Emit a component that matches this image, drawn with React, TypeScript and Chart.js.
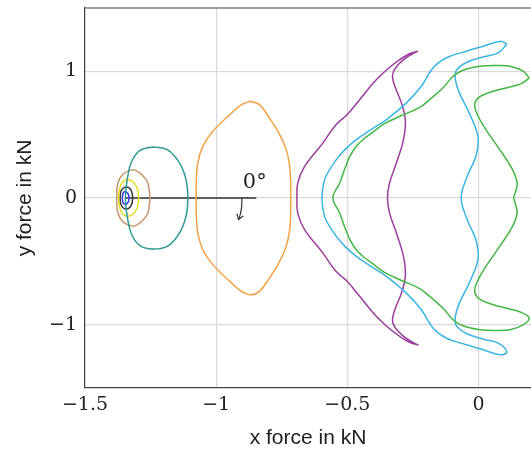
import { useEffect, useRef } from "react";
import { Chart, registerables } from "chart.js";

Chart.register(...registerables);

type P = [number, number];

// ---- data (kN) ----
const blueLoop: P[] = [
  [-1.332, 0], [-1.335, 0.03], [-1.345, 0.05], [-1.354, 0.04], [-1.358, 0],
  [-1.354, -0.04], [-1.345, -0.05], [-1.335, -0.03], [-1.332, 0],
];
const blackLoop: P[] = [
  [-1.318, 0], [-1.322, 0.05], [-1.332, 0.08], [-1.344, 0.087], [-1.356, 0.075], [-1.364, 0.045], [-1.366, 0],
  [-1.364, -0.045], [-1.356, -0.075], [-1.344, -0.087], [-1.332, -0.08], [-1.322, -0.05], [-1.318, 0],
];
const yellowLoop: P[] = [
  [-1.295, 0], [-1.300, 0.07], [-1.315, 0.125], [-1.335, 0.145], [-1.355, 0.13], [-1.367, 0.08], [-1.372, 0],
  [-1.367, -0.08], [-1.355, -0.13], [-1.335, -0.145], [-1.315, -0.125], [-1.300, -0.07], [-1.295, 0],
];
const brownLoop: P[] = [
  [-1.252, 0], [-1.258, 0.1], [-1.267, 0.145], [-1.293, 0.2], [-1.318, 0.222], [-1.357, 0.184], [-1.376, 0.105], [-1.379, 0],
  [-1.376, -0.105], [-1.357, -0.184], [-1.318, -0.222], [-1.293, -0.2], [-1.267, -0.145], [-1.258, -0.1], [-1.252, 0],
];
const tealLoop: P[] = [
  [-1.242, 0.403], [-1.185, 0.38], [-1.14, 0.277], [-1.115, 0.145], [-1.108, 0],
  [-1.115, -0.145], [-1.14, -0.277], [-1.185, -0.38], [-1.242, -0.403],
  [-1.29, -0.376], [-1.322, -0.29], [-1.337, -0.17], [-1.346, 0],
  [-1.337, 0.17], [-1.322, 0.29], [-1.29, 0.376], [-1.242, 0.403],
];
const orangeLoop: P[] = [
  [-0.869, 0.764], [-0.835, 0.737], [-0.797, 0.632], [-0.758, 0.5], [-0.733, 0.382], [-0.72, 0.25], [-0.716, 0.119], [-0.716, 0],
  [-0.716, -0.119], [-0.72, -0.25], [-0.733, -0.382], [-0.758, -0.5], [-0.797, -0.632], [-0.835, -0.737], [-0.869, -0.764],
  [-0.905, -0.735], [-0.949, -0.656], [-1.013, -0.526], [-1.051, -0.408], [-1.07, -0.277], [-1.076, -0.119], [-1.076, 0],
  [-1.076, 0.119], [-1.07, 0.277], [-1.051, 0.408], [-1.013, 0.526], [-0.949, 0.656], [-0.905, 0.735], [-0.869, 0.764],
];
const purpleLoop: P[] = [
  [-0.231, 1.159], [-0.269, 1.133], [-0.326, 1.054], [-0.389, 0.935], [-0.453, 0.776], [-0.5, 0.66], [-0.545, 0.575],
  [-0.593, 0.435], [-0.663, 0.25], [-0.689, 0.119], [-0.692, 0],
  [-0.689, -0.119], [-0.663, -0.25], [-0.593, -0.435], [-0.545, -0.575], [-0.5, -0.66], [-0.453, -0.776],
  [-0.389, -0.935], [-0.326, -1.054], [-0.269, -1.133], [-0.231, -1.159],
  [-0.249, -1.141], [-0.288, -1.088], [-0.319, -1.02], [-0.328, -0.961], [-0.319, -0.882], [-0.294, -0.751],
  [-0.279, -0.619], [-0.286, -0.461], [-0.313, -0.277], [-0.339, -0.119], [-0.347, 0],
  [-0.339, 0.119], [-0.313, 0.277], [-0.286, 0.461], [-0.279, 0.619], [-0.294, 0.751], [-0.319, 0.882],
  [-0.328, 0.961], [-0.319, 1.02], [-0.288, 1.088], [-0.249, 1.141], [-0.231, 1.159],
];
const cyanLoop: P[] = [
  [0.108, 1.215], [0.085, 1.238], [0.018, 1.198], [-0.046, 1.159], [-0.122, 1.107], [-0.173, 1.028], [-0.218, 0.882],
  [-0.275, 0.751], [-0.351, 0.619], [-0.41, 0.54], [-0.466, 0.461], [-0.51, 0.38], [-0.542, 0.303], [-0.568, 0.222],
  [-0.587, 0.145], [-0.597, 0],
  [-0.587, -0.145], [-0.568, -0.222], [-0.542, -0.303], [-0.51, -0.38], [-0.466, -0.461], [-0.41, -0.54],
  [-0.351, -0.619], [-0.275, -0.751],
  [-0.218, -0.882], [-0.173, -1.028], [-0.122, -1.107], [-0.046, -1.159], [0.018, -1.198], [0.085, -1.238], [0.108, -1.215],
  [0.075, -1.146], [0.02, -1.115], [-0.046, -1.07], [-0.084, -1.01], [-0.089, -0.945], [-0.075, -0.84],
  [-0.033, -0.66], [-0.002, -0.48], [-0.01, -0.33], [-0.043, -0.171], [-0.066, 0],
  [-0.043, 0.171], [-0.01, 0.33], [-0.002, 0.48], [-0.033, 0.66], [-0.075, 0.84], [-0.089, 0.945],
  [-0.084, 1.01], [-0.046, 1.07], [0.02, 1.115], [0.075, 1.146], [0.108, 1.215],
];
const greenLoop: P[] = [
  [0.193, 0.948], [0.17, 1.001], [0.12, 1.04], [0.069, 1.046], [0.005, 1.04], [-0.059, 1.009], [-0.097, 0.961],
  [-0.135, 0.87], [-0.186, 0.777], [-0.224, 0.715], [-0.3, 0.645], [-0.36, 0.585], [-0.402, 0.52], [-0.44, 0.462],
  [-0.466, 0.408], [-0.49, 0.33], [-0.508, 0.24], [-0.529, 0.119], [-0.555, 0],
  [-0.529, -0.119], [-0.508, -0.24], [-0.49, -0.33], [-0.466, -0.408], [-0.44, -0.462], [-0.402, -0.52], [-0.36, -0.585],
  [-0.3, -0.645], [-0.224, -0.715],
  [-0.186, -0.777], [-0.135, -0.87], [-0.097, -0.961], [-0.059, -1.009], [0.005, -1.04], [0.069, -1.046], [0.12, -1.04],
  [0.17, -1.001], [0.193, -0.948],
  [0.165, -0.905], [0.12, -0.877], [0.056, -0.843], [0.005, -0.8], [-0.014, -0.745], [-0.008, -0.675], [0.025, -0.55],
  [0.078, -0.39], [0.128, -0.23], [0.147, -0.119], [0.14, -0.04], [0.134, 0],
  [0.14, 0.04], [0.147, 0.119], [0.128, 0.23], [0.078, 0.39], [0.025, 0.55], [-0.008, 0.675], [-0.014, 0.745],
  [0.005, 0.8], [0.056, 0.843], [0.12, 0.877], [0.165, 0.905], [0.193, 0.948],
];
const refLine: P[] = [[-1.345, 0], [-0.847, 0]];
const arrowPath: P[] = [[-0.902, 0], [-0.903, -0.07], [-0.908, -0.13], [-0.915, -0.17]];
const angleLabel = { text: "0°", x: -0.853, y: 0.12 };

const xTicks = [-1.5, -1, -0.5, 0];
const yTicks = [-1, 0, 1];
const xRange: P = [-1.5, 0.2];
const yRange: P = [-1.5, 1.5];

const fmt = (v: number) => (v < 0 ? "\u2212" : "") + String(Math.abs(v));

const loops: { data: P[]; color: string }[] = [
  { data: greenLoop, color: "#45b645" },
  { data: cyanLoop, color: "#3db5e3" },
  { data: purpleLoop, color: "#9a3d9c" },
  { data: orangeLoop, color: "#f0a246" },
  { data: tealLoop, color: "#2f9893" },
  { data: brownLoop, color: "#c4956b" },
  { data: yellowLoop, color: "#e6dc1e" },
  { data: blackLoop, color: "#3a3a3a" },
  { data: blueLoop, color: "#3535f0" },
];

export default function App() {
  const ref = useRef<HTMLCanvasElement | null>(null);
  useEffect(() => {
    if (!ref.current) return;
    const toXY = (a: P[]) => a.map(([x, y]) => ({ x, y }));
    const datasets: any[] = loops.map((l) => ({
      data: toXY(l.data),
      borderColor: l.color,
      borderWidth: 1.5,
      showLine: true,
      pointRadius: 0,
      tension: 0.4,
      fill: false,
    }));
    datasets.push({
      data: toXY(refLine), borderColor: "#333", borderWidth: 1.3, showLine: true, pointRadius: 0, tension: 0,
    });
    datasets.push({
      data: toXY(arrowPath), borderColor: "#333", borderWidth: 1.2, showLine: true, pointRadius: 0, tension: 0.4,
    });
    const annot = {
      id: "annot",
      afterDraw(chart: any) {
        const { ctx, chartArea, scales } = chart;
        const xs = scales.x, ys = scales.y;
        ctx.save();
        ctx.strokeStyle = "#444";
        ctx.lineWidth = 1.2;
        ctx.beginPath();
        ctx.moveTo(chartArea.left, chartArea.top);
        ctx.lineTo(chartArea.right, chartArea.top);
        ctx.stroke();
        const n = arrowPath.length;
        const tx = xs.getPixelForValue(arrowPath[n - 1][0]);
        const ty = ys.getPixelForValue(arrowPath[n - 1][1]);
        const px = xs.getPixelForValue(arrowPath[n - 2][0]);
        const py = ys.getPixelForValue(arrowPath[n - 2][1]);
        const ang = Math.atan2(ty - py, tx - px);
        const L = 6;
        ctx.strokeStyle = "#333";
        ctx.lineWidth = 1.2;
        ctx.beginPath();
        ctx.moveTo(tx - L * Math.cos(ang - 0.6), ty - L * Math.sin(ang - 0.6));
        ctx.lineTo(tx, ty);
        ctx.lineTo(tx - L * Math.cos(ang + 0.6), ty - L * Math.sin(ang + 0.6));
        ctx.stroke();
        ctx.fillStyle = "#222";
        ctx.font = "21px 'DejaVu Serif'";
        ctx.textAlign = "center";
        ctx.textBaseline = "middle";
        ctx.fillText(angleLabel.text, xs.getPixelForValue(angleLabel.x), ys.getPixelForValue(angleLabel.y));
        ctx.restore();
      },
    };
    const chart = new Chart(ref.current, {
      type: "scatter",
      data: { datasets },
      plugins: [annot],
      options: {
        animation: false,
        responsive: true,
        maintainAspectRatio: false,
        layout: { padding: { top: 8, left: 0, right: 0, bottom: 0 } },
        plugins: { legend: { display: false }, tooltip: { enabled: false } },
        scales: {
          x: {
            type: "linear",
            min: xRange[0],
            max: xRange[1],
            afterBuildTicks: (s: any) => { s.ticks = xTicks.map((v) => ({ value: v })); },
            afterFit: (s: any) => { s.height = 62; s.paddingLeft = 0; s.paddingRight = 0; },
            ticks: {
              callback: (v: any) => fmt(Number(v)),
              font: { family: "'DejaVu Serif'", size: 19 },
              color: "#222",
              padding: 6,
              maxRotation: 0,
              autoSkip: false,
            },
            grid: { color: "#dadada", lineWidth: 1.2, drawTicks: false },
            border: { color: "#444", width: 1.2 },
            title: {
              display: true,
              text: "x force in kN",
              font: { family: "'Liberation Sans'", size: 21, lineHeight: 1 },
              color: "#222",
              padding: { top: 0, bottom: 1.5 },
            },
          },
          y: {
            type: "linear",
            min: yRange[0],
            max: yRange[1],
            afterBuildTicks: (s: any) => { s.ticks = yTicks.map((v) => ({ value: v })); },
            afterFit: (s: any) => { s.width = 85; s.paddingTop = 0; s.paddingBottom = 0; },
            ticks: {
              callback: (v: any) => fmt(Number(v)),
              font: { family: "'DejaVu Serif'", size: 19 },
              color: "#222",
              padding: 8,
              autoSkip: false,
            },
            grid: { color: "#dadada", lineWidth: 1.2, drawTicks: false },
            border: { color: "#444", width: 1.2 },
            title: {
              display: true,
              text: "y force in kN",
              font: { family: "'Liberation Sans'", size: 21, lineHeight: 1 },
              color: "#222",
              padding: { top: 15, bottom: 0 },
            },
          },
        },
      },
    });
    return () => chart.destroy();
  }, []);
  return (
    <div style={{ position: "absolute", left: 0, top: 0, width: 531, height: 450 }}>
      <canvas ref={ref} />
    </div>
  );
}
